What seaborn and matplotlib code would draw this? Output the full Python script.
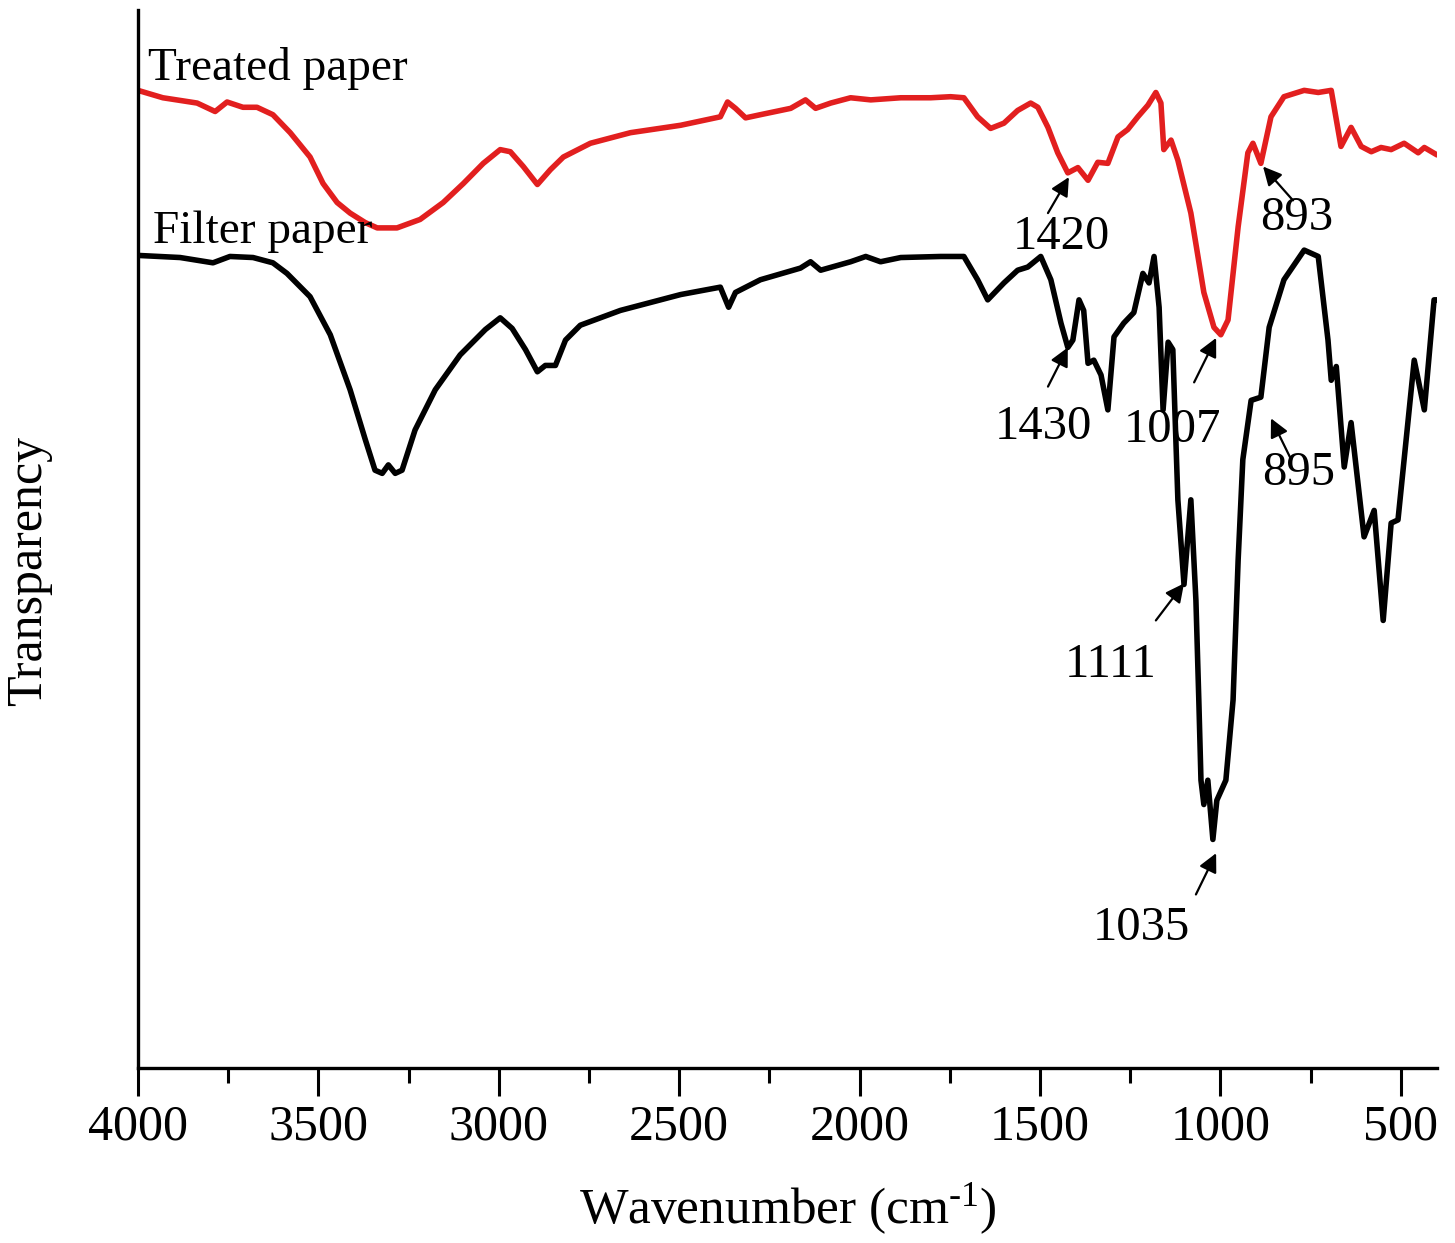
import numpy as np
import pandas as pd
import matplotlib
matplotlib.use("Agg")
import matplotlib.pyplot as plt
import seaborn as sns
from matplotlib.ticker import MultipleLocator

# ---- data ----
treated_wn = [4000, 3931, 3836, 3786, 3753, 3709, 3670, 3626, 3578, 3523, 3487, 3448, 3412,
              3370, 3337, 3282, 3218, 3154, 3098, 3043, 2996, 2968, 2932, 2893, 2857, 2821, 2746,
              2635, 2496, 2386, 2366, 2344, 2316, 2275, 2191, 2150, 2122, 2080, 2025, 1969,
              1886, 1803, 1748, 1711, 1673, 1637, 1600, 1562, 1526, 1506, 1478, 1451, 1423,
              1395, 1367, 1340, 1312, 1284, 1257, 1229, 1201, 1179, 1165, 1157, 1137, 1118,
              1082, 1046, 1018, 999, 979, 951, 924, 910, 888, 860, 824, 768, 729, 693, 666,
              638, 610, 582, 555, 527, 491, 452, 435, 400]
treated_t = [92.4, 91.7, 91.2, 90.4, 91.3, 90.8, 90.8, 90.1, 88.4, 86.1, 83.6, 81.8, 80.8,
             79.9, 79.4, 79.4, 80.2, 81.8, 83.6, 85.5, 86.8, 86.6, 85.2, 83.5, 84.9, 86.1, 87.4,
             88.4, 89.1, 89.9, 91.3, 90.7, 89.8, 90.1, 90.7, 91.5, 90.7, 91.2, 91.7, 91.5,
             91.7, 91.7, 91.8, 91.7, 89.9, 88.8, 89.3, 90.5, 91.2, 90.8, 88.9, 86.5, 84.6,
             85.1, 83.9, 85.6, 85.5, 88.0, 88.7, 89.9, 91.0, 92.2, 91.2, 86.8, 87.7, 85.8,
             80.8, 73.3, 70.0, 69.3, 70.7, 79.5, 86.5, 87.4, 85.5, 89.9, 91.8, 92.4, 92.2,
             92.4, 87.1, 88.9, 87.1, 86.6, 87.0, 86.8, 87.4, 86.5, 87.0, 86.3]

filter_wn = [4000, 3883, 3792, 3745, 3681, 3626, 3587, 3523, 3467, 3412, 3370, 3343, 3323,
             3306, 3287, 3268, 3232, 3176, 3107, 3037, 2996, 2963, 2926, 2893, 2871, 2843,
             2815, 2774, 2663, 2496, 2386, 2363, 2344, 2275, 2164, 2136, 2108, 2025, 1983,
             1942, 1886, 1775, 1711, 1673, 1645, 1600, 1562, 1534, 1498, 1470, 1442, 1423,
             1409, 1392, 1379, 1367, 1351, 1331, 1312, 1295, 1268, 1240, 1215, 1198, 1184,
             1170, 1159, 1145, 1132, 1118, 1101, 1082, 1068, 1060, 1054, 1046, 1035, 1021,
             1010, 985, 965, 951, 938, 915, 888, 865, 824, 768, 729, 702, 693, 679, 657,
             638, 602, 574, 549, 527, 508, 463, 435, 408, 400]
filter_t = [76.8, 76.6, 76.1, 76.7, 76.6, 76.1, 75.1, 72.9, 69.3, 64.1, 59.4, 56.5, 56.2,
            57.0, 56.2, 56.5, 60.3, 64.1, 67.4, 69.8, 70.9, 69.9, 67.9, 65.8, 66.4, 66.4,
            68.8, 70.2, 71.6, 73.1, 73.8, 71.9, 73.3, 74.5, 75.6, 76.2, 75.4, 76.2, 76.7,
            76.2, 76.6, 76.7, 76.7, 74.5, 72.6, 74.2, 75.4, 75.7, 76.7, 74.5, 70.4, 68.1,
            68.8, 72.6, 71.6, 66.6, 66.9, 65.5, 62.2, 69.1, 70.4, 71.4, 75.1, 74.2, 76.7,
            71.9, 62.2, 68.6, 67.9, 53.7, 45.7, 53.7, 44.2, 34.8, 27.2, 24.9, 27.2, 21.6,
            25.3, 27.2, 34.8, 48.0, 57.5, 63.1, 63.4, 70.0, 74.5, 77.3, 76.7, 68.8, 65.0,
            66.3, 56.8, 61.0, 50.2, 52.7, 42.3, 51.5, 51.8, 66.9, 62.2, 72.6, 72.6]

series_names = ["Treated paper", "Filter paper"]
series_colors = ["#e21f1f", "#000000"]

# peak annotations: label, arrow head (wn, T), arrow tail (wn, T), text centre (wn, T)
peak_labels = ["1420", "893", "1430", "1007", "895", "1111", "1035"]
arrow_head = [(1420, 84.2), (882, 85.2), (1423, 68.1), (1012, 69.0), (860, 61.4), (1101, 45.8), (1012, 20.3)]
arrow_tail = [(1478, 80.8), (799, 82.0), (1478, 64.4), (1073, 64.8), (804, 57.5), (1179, 42.3), (1068, 16.4)]
label_pos = [(1442, 78.5), (790, 80.3), (1490, 60.6), (1132, 60.3), (782, 56.2), (1304, 38.1), (1220, 13.2)]

# ---- figure ----
sns.set_theme(style="ticks")
plt.rcParams["font.family"] = ["Liberation Serif", "DejaVu Serif"]
plt.rcParams["mathtext.fontset"] = "custom"
plt.rcParams["mathtext.rm"] = "Liberation Serif"
plt.rcParams["mathtext.it"] = "Liberation Serif:italic"
plt.rcParams["axes.unicode_minus"] = False
plt.rcParams["text.color"] = "black"
plt.rcParams["axes.labelcolor"] = "black"
plt.rcParams["xtick.color"] = "black"
plt.rcParams["ytick.color"] = "black"

df = pd.concat([
    pd.DataFrame({"wn": treated_wn, "T": treated_t, "sample": series_names[0]}),
    pd.DataFrame({"wn": filter_wn, "T": filter_t, "sample": series_names[1]}),
])

fig = plt.figure(figsize=(14.55, 12.43), dpi=100)
ax = fig.add_axes([0.0948, 0.1408, 0.8928, 0.8512])

sns.lineplot(data=df, x="wn", y="T", hue="sample", palette=dict(zip(series_names, series_colors)),
             sort=False, estimator=None, legend=False, linewidth=4.0, ax=ax)

ax.set_xlim(4000, 400)
ax.set_ylim(0, 100)
ax.xaxis.set_major_locator(MultipleLocator(500))
ax.xaxis.set_minor_locator(MultipleLocator(250))
ax.set_yticks([])
ax.tick_params(axis="x", which="major", direction="out", length=20, width=2.2,
               labelsize=36, pad=6, color="black", labelcolor="black")
ax.tick_params(axis="x", which="minor", direction="out", length=11, width=2.2, color="black")
for side in ["top", "right"]:
    ax.spines[side].set_visible(False)
for side in ["left", "bottom"]:
    ax.spines[side].set_linewidth(2.4)
    ax.spines[side].set_color("black")

ax.set_xlabel("Wavenumber (cm$^{\\mathregular{\u20101}}$)", fontsize=37, labelpad=22, color="black")
ax.set_ylabel("Transparency", fontsize=36, color="black")
ax.yaxis.set_label_coords(-0.066, 0.47)

ax.text(3972, 94.5, series_names[0], fontsize=34, ha="left", va="center", color="black")
ax.text(3958, 79.0, series_names[1], fontsize=34, ha="left", va="center", color="black")

for lab, head, tail, pos in zip(peak_labels, arrow_head, arrow_tail, label_pos):
    ax.annotate("", xy=head, xytext=tail,
                arrowprops=dict(arrowstyle="-|>", color="black", lw=1.6, mutation_scale=28,
                                shrinkA=0, shrinkB=0))
    ax.text(pos[0], pos[1], lab, fontsize=35, ha="center", va="center", color="black")

fig.savefig("out.png", dpi=100)
